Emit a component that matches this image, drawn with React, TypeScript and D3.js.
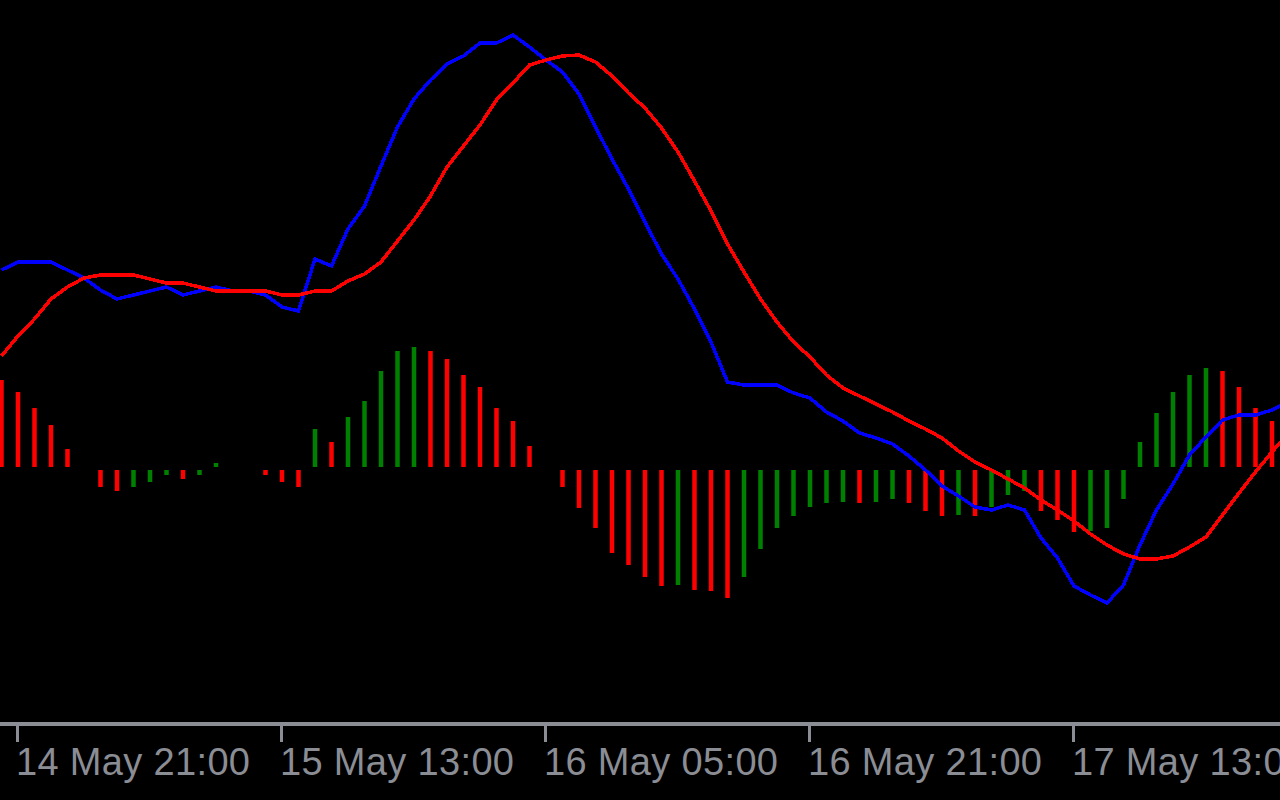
import React from "react";
import * as d3 from "d3";

// Hourly bars, first bar = 14 May 20:00
const startTime = new Date(2024, 4, 14, 20, 0);

// Main (fast) line – blue
const macdLine = [
  198, 206, 206, 206, 198, 190, 178, 169, 173, 177, 181, 173, 177, 181, 177, 177,
  173, 161, 157, 209, 202, 239, 262, 302, 341, 369, 388, 404, 412, 425, 425, 433,
  421, 408, 396, 374, 341, 309, 279, 246, 214, 189, 159, 126, 86, 83, 83, 83,
  75, 70, 56, 47, 35, 30, 24, 12, -2, -18, -28, -39, -42, -37, -42, -70,
  -90, -118, -127, -135, -117, -77, -42, -16, 13, 31, 48, 53, 53, 58, 66,
];

// Signal line – red
const signalLine = [
  112, 132, 149, 169, 181, 190, 193, 193, 193, 189, 185, 185, 181, 177, 177, 177,
  177, 173, 173, 177, 177, 187, 194, 206, 227, 248, 272, 301, 322, 343, 368, 385,
  403, 408, 412, 413, 406, 392, 375, 360, 340, 316, 287, 257, 224, 196, 169, 146,
  126, 111, 93, 80, 72, 64, 56, 47, 39, 30, 17, 6, -2, -11, -20, -32,
  -42, -53, -66, -77, -86, -91, -91, -88, -79, -69, -47, -25, -4, 16, 35,
];

// Histogram (green when rising, red when falling)
const histogram = [
  87, 75, 59, 42, 18, 0, -17, -21, -17, -12, -5, -9, -5, 4, 0, 0,
  -5, -12, -17, 38, 25, 50, 66, 96, 116, 120, 116, 108, 92, 80, 59, 46,
  21, 0, -17, -38, -58, -83, -95, -107, -116, -115, -120, -121, -128, -107, -79, -58,
  -46, -37, -33, -32, -33, -32, -29, -33, -41, -46, -45, -46, -37, -25, -21, -41,
  -50, -62, -61, -58, -29, 25, 54, 75, 92, 99, 96, 80, 59, 46,
];

const tickTimes = [
  new Date(2024, 4, 14, 21, 0),
  new Date(2024, 4, 15, 13, 0),
  new Date(2024, 4, 16, 5, 0),
  new Date(2024, 4, 16, 21, 0),
  new Date(2024, 4, 17, 13, 0),
];
const tickLabels = ["14 May 21:00", "15 May 13:00", "16 May 05:00", "16 May 21:00", "17 May 13:00"];

const W = 1280;
const H = 800;
const HOUR = 3600 * 1000;

const timeAt = (i: number) => new Date(startTime.getTime() + i * HOUR);

export default function App() {
  const x = d3
    .scaleTime()
    .domain([startTime, timeAt(77)])
    .range([1.5, 1272]);
  const y = d3.scaleLinear().domain([-332, 468]).range([H, 0]);

  const line = d3
    .line<number>()
    .x((_, i) => x(timeAt(i)))
    .y((d) => y(d));

  const y0 = y(0);
  const GREEN = "#008000";
  const RED = "#ff0000";
  const GREY = "#8b8d94";

  return (
    <svg
      width={W}
      height={H}
      style={{ position: "absolute", left: 0, top: 0, display: "block", background: "#000" }}
    >
      <rect x={0} y={0} width={W} height={H} fill="#000" />
      <g>
        {histogram.map((v, i) => {
          if (v === 0) return null;
          const color = i > 0 && v > histogram[i - 1] ? GREEN : RED;
          const cx = x(timeAt(i));
          const bw = 4.5;
          if (v > 0) {
            return (
              <rect key={i} x={cx - bw / 2} y={y(v) - 1} width={bw} height={y0 - y(v)} fill={color} />
            );
          }
          return (
            <rect key={i} x={cx - bw / 2} y={y0 + 2} width={bw} height={y(v) - y0} fill={color} />
          );
        })}
      </g>
      <path
        d={line(macdLine) || ""}
        fill="none"
        stroke="#0000ff"
        strokeWidth={3.5}
        shapeRendering="crispEdges"
        strokeLinejoin="miter"
      />
      <path
        d={line(signalLine) || ""}
        fill="none"
        stroke="#ff0000"
        strokeWidth={3.5}
        shapeRendering="crispEdges"
        strokeLinejoin="miter"
      />
      <rect x={0} y={722} width={W} height={4} fill={GREY} />
      {tickTimes.map((t, i) => {
        const tx = Math.round(x(t)) - 0.5;
        return (
          <g key={i}>
            <rect x={tx - 1.5} y={726} width={3} height={16} fill={GREY} />
            <text
              x={tx - 1.5}
              y={775}
              fill={GREY}
              fontFamily="'Liberation Sans', Arial, sans-serif"
              fontSize={38}
              textLength={234}
              lengthAdjust="spacing"
            >
              {tickLabels[i]}
            </text>
          </g>
        );
      })}
    </svg>
  );
}
